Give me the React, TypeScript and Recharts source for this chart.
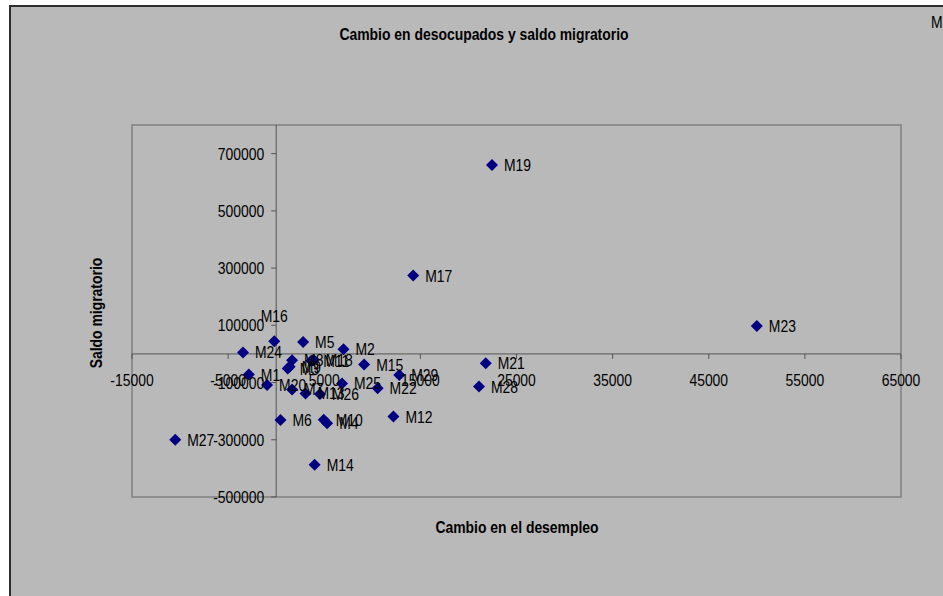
import React from 'react';
import { ScatterChart, Scatter, XAxis, YAxis, ReferenceLine, ReferenceArea } from 'recharts';

const names = [
  'M1', 'M2', 'M3', 'M4', 'M5', 'M6', 'M7', 'M8', 'M9', 'M10',
  'M11', 'M12', 'M13', 'M14', 'M15', 'M16', 'M17', 'M18', 'M19', 'M20',
  'M21', 'M22', 'M23', 'M24', 'M25', 'M26', 'M27', 'M28', 'M29',
];
const cambioDesempleo = [
  -2850, 7000, 1200, 5300, 2800, 450, 1650, 1650, 1400, 4950,
  3650, 12200, 3050, 4000, 9150, -200, 14250, 3900, 22450, -950,
  21800, 10550, 50000, -3450, 6850, 4550, -10500, 21100, 12800,
];
const saldoMigratorio = [
  -72000, 16000, -51000, -242000, 42000, -231000, -124000, -22000, -45000, -230000,
  -24000, -219000, -138000, -387000, -37000, 44000, 274000, -21000, 660000, -109000,
  -33000, -120000, 98000, 5000, -103000, -140000, -300000, -114000, -74000,
];
const xTicks = [-15000, -5000, 5000, 15000, 25000, 35000, 45000, 55000, 65000];
const yTicks = [-500000, -300000, -100000, 100000, 300000, 500000, 700000];
const xDomain = [-15000, 65000];
const yDomain = [-500000, 800000];

const data = names.map((name, i) => ({ name, x: cambioDesempleo[i], y: saldoMigratorio[i] }));

const W = 932;
const H = 589;
const X_AXIS_H = 30;
const Y_AXIS_W = 60;
const margin = { top: 118, right: 42, bottom: 99 - X_AXIS_H, left: 121 - Y_AXIS_W };
const plotLeft = margin.left + Y_AXIS_W;
const plotTop = margin.top;
const plotW = W - plotLeft - margin.right;
const plotH = H - plotTop - margin.bottom - X_AXIS_H;
// where the axes cross (value 0 on the other axis)
const zeroX = plotLeft + ((0 - xDomain[0]) / (xDomain[1] - xDomain[0])) * plotW;
const zeroY = plotTop + ((yDomain[1] - 0) / (yDomain[1] - yDomain[0])) * plotH;

const FONT = '"Liberation Sans", Arial, sans-serif';
const BG = '#b9b9b9';
const AXIS = '#555555';

// Arial Narrow look: squeeze Liberation Sans horizontally
const NText = ({ x, y, anchor = 'start', bold = false, rotate = 0, children }: any) => (
  <text
    transform={`translate(${x} ${y})${rotate ? ` rotate(${rotate})` : ''} scale(0.87 1)`}
    textAnchor={anchor}
    fontSize={16}
    fontWeight={bold ? 'bold' : 'normal'}
    fontFamily={FONT}
    fill="#000"
  >
    {children}
  </text>
);

const XTick = (props: any) => {
  const { x, payload } = props;
  return (
    <g>
      <line x1={x} y1={zeroY} x2={x} y2={zeroY + 5} stroke={AXIS} />
      <NText x={x} y={zeroY + 32} anchor="middle">{payload.value}</NText>
    </g>
  );
};

const YTick = (props: any) => {
  const { y, payload } = props;
  return (
    <g>
      <line x1={zeroX - 5} y1={y} x2={zeroX} y2={y} stroke={AXIS} />
      <NText x={zeroX - 12} y={y + 6} anchor="end">{payload.value}</NText>
    </g>
  );
};

const Diamond = (props: any) => {
  const { cx, cy } = props;
  const r = 6;
  return (
    <polygon
      points={`${cx},${cy - r} ${cx + r},${cy} ${cx},${cy + r} ${cx - r},${cy}`}
      fill="#000080"
    />
  );
};

const PointLabel = (props: any) => {
  const { cx, cy, payload } = props;
  if (payload.name === 'M16') {
    return <NText x={cx} y={cy - 19} anchor="middle">{payload.name}</NText>;
  }
  return <NText x={cx + 12} y={cy + 6}>{payload.name}</NText>;
};

export default function App() {
  return (
    <div
      style={{
        position: 'absolute',
        left: 9,
        top: 5,
        width: 934,
        height: 591,
        boxSizing: 'border-box',
        background: BG,
        borderTop: '2px solid #2e2e2e',
        borderLeft: '2px solid #2e2e2e',
        overflow: 'hidden',
        fontFamily: FONT,
      }}
    >
      <div style={{ position: 'absolute', left: 0, top: 0 }}>
        <ScatterChart width={W} height={H} margin={margin}>
          <XAxis
            type="number"
            dataKey="x"
            domain={xDomain}
            ticks={xTicks}
            interval={0}
            allowDataOverflow
            axisLine={false}
            tickLine={false}
            height={X_AXIS_H}
            tick={<XTick />}
          />
          <YAxis
            type="number"
            dataKey="y"
            domain={yDomain}
            ticks={yTicks}
            interval={0}
            allowDataOverflow
            axisLine={false}
            tickLine={false}
            width={Y_AXIS_W}
            tick={<YTick />}
          />
          <ReferenceArea
            x1={xDomain[0]}
            x2={xDomain[1]}
            y1={yDomain[0]}
            y2={yDomain[1]}
            fill="none"
            fillOpacity={0}
            stroke="#808080"
            strokeWidth={1.5}
          />
          <ReferenceLine x={0} stroke={AXIS} />
          <ReferenceLine y={0} stroke={AXIS} />
          <Scatter data={data} shape={<Diamond />} isAnimationActive={false} />
          <Scatter data={data} shape={<PointLabel />} isAnimationActive={false} legendType="none" />
        </ScatterChart>
      </div>
      <svg
        width={W}
        height={H}
        style={{ position: 'absolute', left: 0, top: 0, pointerEvents: 'none' }}
      >
        <NText x={473} y={33} anchor="middle" bold>Cambio en desocupados y saldo migratorio</NText>
        <NText x={506} y={526} anchor="middle" bold>Cambio en el desempleo</NText>
        <NText x={91} y={306} anchor="middle" bold rotate={-90}>Saldo migratorio</NText>
        <NText x={920} y={21}>M</NText>
      </svg>
    </div>
  );
}
